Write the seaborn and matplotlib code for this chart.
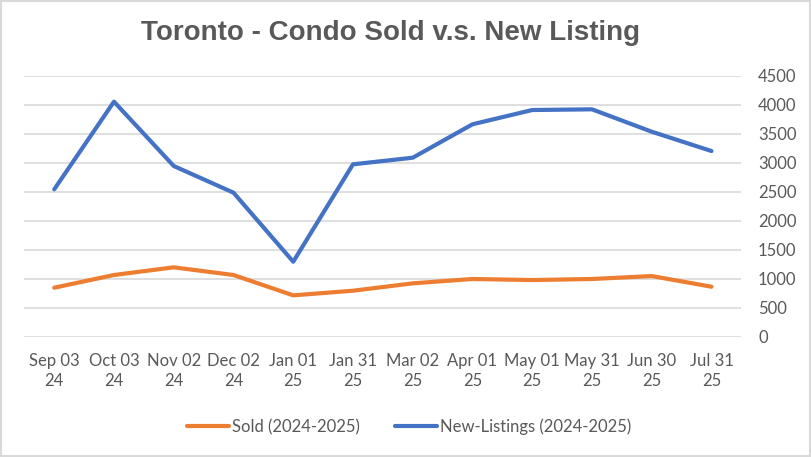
import pandas as pd
import matplotlib.pyplot as plt
import seaborn as sns
from matplotlib.patches import Rectangle

# --- data ---
dates = ['Sep 03\n24', 'Oct 03\n24', 'Nov 02\n24', 'Dec 02\n24', 'Jan 01\n25', 'Jan 31\n25',
         'Mar 02\n25', 'Apr 01\n25', 'May 01\n25', 'May 31\n25', 'Jun 30\n25', 'Jul 31\n25']
sold = [845, 1064, 1196, 1064, 713, 793, 920, 995, 977, 995, 1046, 862]
new_listings = [2541, 4052, 2943, 2483, 1293, 2972, 3086, 3662, 3908, 3920, 3534, 3201]
y_ticks = [0, 500, 1000, 1500, 2000, 2500, 3000, 3500, 4000, 4500]

df = pd.DataFrame({'date': dates, 'Sold (2024-2025)': sold,
                   'New-Listings (2024-2025)': new_listings})
df['pos'] = range(len(dates))
df_long = df.melt(id_vars=['date', 'pos'], var_name='series', value_name='count')

sns.set_style('white')
plt.rcParams['font.family'] = ['Lato', 'DejaVu Sans']
text_col = '#595959'

fig = plt.figure(figsize=(8.12, 4.57), dpi=100)
ax = fig.add_axes([0.030, 0.2632, 0.883, 0.5712])

sns.lineplot(data=df_long, x='pos', y='count', hue='series',
             palette={'Sold (2024-2025)': '#ED7D31', 'New-Listings (2024-2025)': '#4472C4'},
             linewidth=3, ax=ax, legend=False, zorder=3)
for ln in ax.lines:
    ln.set_solid_capstyle('round')
    ln.set_solid_joinstyle('round')

ax.set_xlim(-0.5, len(dates) - 0.5)
ax.set_ylim(0, 4500)
ax.set_xticks(df['pos'])
ax.set_xticklabels(dates, fontsize=12, color=text_col, linespacing=1.3)
ax.set_yticks(y_ticks)
ax.set_yticklabels([str(v) for v in y_ticks], fontsize=12, color=text_col)
ax.yaxis.tick_right()
ax.tick_params(axis='both', length=0)
ax.tick_params(axis='x', pad=12)
ax.tick_params(axis='y', pad=12)
ax.grid(axis='y', color='#D9D9D9', linewidth=1.2)
ax.set_axisbelow(True)
for s in ax.spines.values():
    s.set_visible(False)
ax.set_xlabel('')
ax.set_ylabel('')

fig.text(0.481, 0.927, 'Toronto - Condo Sold v.s. New Listing', ha='center', va='center',
         fontsize=20, fontweight='bold', color=text_col, family='Liberation Sans')

# legend at the bottom
handles = [plt.Line2D([], [], color='#ED7D31', lw=3, solid_capstyle='round'),
           plt.Line2D([], [], color='#4472C4', lw=3, solid_capstyle='round')]
fig.legend(handles, ['Sold (2024-2025)', 'New-Listings (2024-2025)'], loc='center',
           bbox_to_anchor=(0.504, 0.066), ncol=2, frameon=False, fontsize=12,
           labelcolor=text_col, handlelength=2.5, handletextpad=0.2, columnspacing=2.1)

# chart border
fig.add_artist(Rectangle((0.001, 0.002), 0.997, 0.996, transform=fig.transFigure,
                         fill=False, edgecolor='#D9D9D9', linewidth=1.5))

fig.savefig('out.png', dpi=100)
